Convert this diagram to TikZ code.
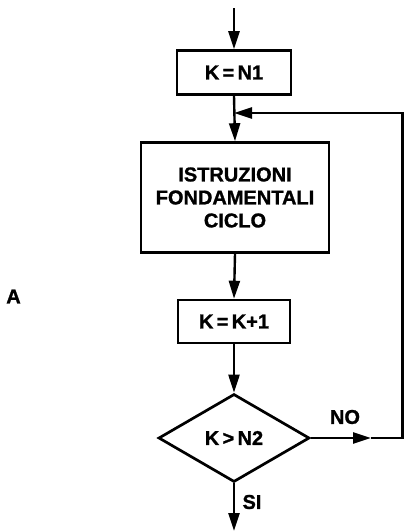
\documentclass[tikz,border=0pt]{standalone}
\usepackage{fontspec}
\setmainfont{Liberation Sans}[BoldFeatures={FakeBold=1.2}]
\usetikzlibrary{arrows.meta,shapes.geometric}
\begin{document}
\begin{tikzpicture}[x=1pt,y=-1pt,
  every node/.style={font=\fontsize{20}{23}\selectfont\bfseries},
  flowbox/.style={draw,line width=2.6pt,inner sep=0pt,align=center},
  choice/.style={draw,diamond,line width=2.7pt,inner sep=0pt,aspect=1.7,
    minimum width=151pt,minimum height=88pt},
  conn/.style={line width=2.4pt},
  arr/.style={conn,-{Triangle[length=18pt,width=11pt]}},
  lbl/.style={inner sep=0pt}]
\useasboundingbox (0,0) rectangle (404,531);

% program blocks
\node[flowbox,minimum width=114pt,minimum height=44pt] (n1) at (234,72.5) {K\,=\,N1};
\node[flowbox,minimum width=188pt,minimum height=110pt] (body) at (235,197.5)
  {ISTRUZIONI\\FONDAMENTALI\\CICLO};
\node[flowbox,minimum width=112pt,minimum height=43pt] (inc) at (234,321.5) {K\,=\,K+1};
\node[choice] (test) at (234,438) {K\,>\,N2};

% free ends and bends
\coordinate (start) at (234,8);
\coordinate (join) at (234,113);
\coordinate (nomid) at (371,438);
\coordinate (rb) at (402.5,438);
\coordinate (rt) at (402.5,113);
\coordinate (exit) at (234,531);

% connectors
\draw[arr] (start) -- (n1.north);
\draw[arr] (n1.south) -- (body.north);
\draw[arr] (body.south) -- (inc.north);
\draw[arr] (inc.south) -- (test.north);
\draw[arr] (test.east) -- (nomid);
\draw[arr] (nomid) -- (rb) -- (rt) -- (join);
\draw[arr] (test.south) -- (exit);

% labels
\node[lbl] (no) at (345,417) {NO};
\node[lbl] (si) at (252,502) {SI};
\node[lbl] (a) at (13.5,296.5) {A};
\end{tikzpicture}
\end{document}
